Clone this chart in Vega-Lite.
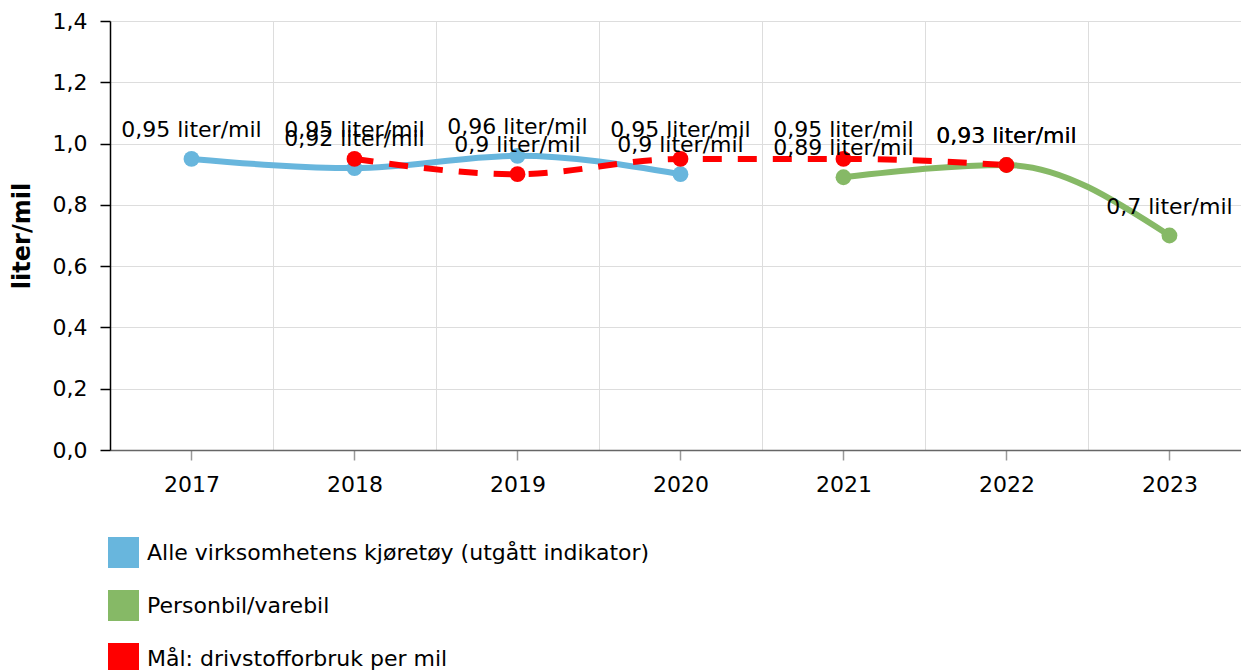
{
  "$schema": "https://vega.github.io/schema/vega-lite/v6.json",
  "width": 1131,
  "height": 429,
  "autosize": {"type": "none"},
  "padding": {"left": 110, "top": 21, "right": 0, "bottom": 220},
  "background": "white",
  "config": {
    "view": {"stroke": null},
    "font": "DejaVu Sans",
    "axis": {"labelFont": "DejaVu Sans", "titleFont": "DejaVu Sans"}
  },
  "data": {
    "values": [
      {"year": 2017, "value": 0.95, "series": "Alle virksomhetens kjøretøy (utgått indikator)", "label": "0,95 liter/mil"},
      {"year": 2018, "value": 0.92, "series": "Alle virksomhetens kjøretøy (utgått indikator)", "label": "0,92 liter/mil"},
      {"year": 2019, "value": 0.96, "series": "Alle virksomhetens kjøretøy (utgått indikator)", "label": "0,96 liter/mil"},
      {"year": 2020, "value": 0.90, "series": "Alle virksomhetens kjøretøy (utgått indikator)", "label": "0,9 liter/mil"},
      {"year": 2021, "value": 0.89, "series": "Personbil/varebil", "label": "0,89 liter/mil"},
      {"year": 2022, "value": 0.93, "series": "Personbil/varebil", "label": "0,93 liter/mil"},
      {"year": 2023, "value": 0.70, "series": "Personbil/varebil", "label": "0,7 liter/mil"},
      {"year": 2018, "value": 0.95, "series": "Mål: drivstofforbruk per mil", "label": "0,95 liter/mil"},
      {"year": 2019, "value": 0.90, "series": "Mål: drivstofforbruk per mil", "label": "0,9 liter/mil"},
      {"year": 2020, "value": 0.95, "series": "Mål: drivstofforbruk per mil", "label": "0,95 liter/mil"},
      {"year": 2021, "value": 0.95, "series": "Mål: drivstofforbruk per mil", "label": "0,95 liter/mil"},
      {"year": 2022, "value": 0.93, "series": "Mål: drivstofforbruk per mil", "label": "0,93 liter/mil"}
    ]
  },
  "resolve": {"axis": {"x": "independent"}},
  "layer": [
    {
      "transform": [{"filter": "datum.series === 'Alle virksomhetens kjøretøy (utgått indikator)'"}],
      "mark": {"type": "line", "color": "#68b6dd", "strokeWidth": 6, "interpolate": "monotone"},
      "encoding": {
        "x": {
          "field": "year", "type": "quantitative",
          "scale": {"domain": [2016.5, 2023.439], "nice": false, "zero": false},
          "axis": {
            "orient": "top", "values": [2017.5, 2018.5, 2019.5, 2020.5, 2021.5, 2022.5],
            "grid": true, "gridColor": "#dddddd", "gridWidth": 1,
            "labels": false, "ticks": false, "domain": false, "title": null
          }
        },
        "y": {
          "field": "value", "type": "quantitative",
          "scale": {"domain": [0, 1.4], "nice": false, "zero": true},
          "axis": {
            "values": [0, 0.2, 0.4, 0.6, 0.8, 1.0, 1.2, 1.4],
            "labelExpr": "replace(format(datum.value, '.1f'), '.', ',')",
            "grid": true, "gridColor": "#dddddd", "gridWidth": 1,
            "domainColor": "#000000", "domainWidth": 1.5,
            "tickColor": "#000000", "tickWidth": 1.5, "tickSize": 10,
            "labelFontSize": 22, "labelColor": "#000000", "labelPadding": 13,
            "title": "liter/mil", "titleFontSize": 24, "titleFontWeight": "bold", "titleColor": "#000000",
            "titleX": -88, "titleY": 214.5, "titleAngle": -90, "titleAlign": "center", "titleBaseline": "middle"
          }
        }
      }
    },
    {
      "transform": [{"filter": "datum.series === 'Personbil/varebil'"}],
      "mark": {"type": "line", "color": "#86b966", "strokeWidth": 6, "interpolate": "monotone"},
      "encoding": {
        "x": {"field": "year", "type": "quantitative", "axis": null},
        "y": {"field": "value", "type": "quantitative"}
      }
    },
    {
      "transform": [{"filter": "datum.series === 'Mål: drivstofforbruk per mil'"}],
      "mark": {"type": "line", "color": "#ff0000", "strokeWidth": 6, "strokeDash": [19, 16], "interpolate": "monotone"},
      "encoding": {
        "x": {"field": "year", "type": "quantitative", "axis": null},
        "y": {"field": "value", "type": "quantitative"}
      }
    },
    {
      "mark": {"type": "point", "filled": true, "opacity": 1, "size": 250},
      "encoding": {
        "x": {
          "field": "year", "type": "quantitative",
          "axis": {
            "orient": "bottom", "values": [2017, 2018, 2019, 2020, 2021, 2022, 2023], "format": "d",
            "grid": false, "domainColor": "#666666", "domainWidth": 1.5,
            "tickColor": "#999999", "tickSize": 10, "tickWidth": 1.5,
            "labelFontSize": 22, "labelColor": "#000000", "labelPadding": 14, "labelFlush": false,
            "title": null
          }
        },
        "y": {"field": "value", "type": "quantitative"},
        "color": {
          "field": "series", "type": "nominal",
          "scale": {
            "domain": ["Alle virksomhetens kjøretøy (utgått indikator)", "Personbil/varebil", "Mål: drivstofforbruk per mil"],
            "range": ["#68b6dd", "#86b966", "#ff0000"]
          },
          "legend": {
            "orient": "none", "legendX": -2, "legendY": 516, "direction": "vertical",
            "title": null, "symbolType": "square", "symbolSize": 961, "symbolStrokeWidth": 0, "symbolOpacity": 1,
            "labelFontSize": 22, "labelColor": "#000000", "labelFont": "DejaVu Sans", "labelOffset": 8,
            "rowPadding": 22, "labelLimit": 1000
          }
        }
      }
    },
    {
      "mark": {"type": "text", "fontSize": 22, "font": "DejaVu Sans", "color": "#000000", "align": "center", "baseline": "alphabetic", "dy": -22},
      "encoding": {
        "x": {"field": "year", "type": "quantitative", "axis": null},
        "y": {"field": "value", "type": "quantitative"},
        "text": {"field": "label"}
      }
    }
  ]
}
